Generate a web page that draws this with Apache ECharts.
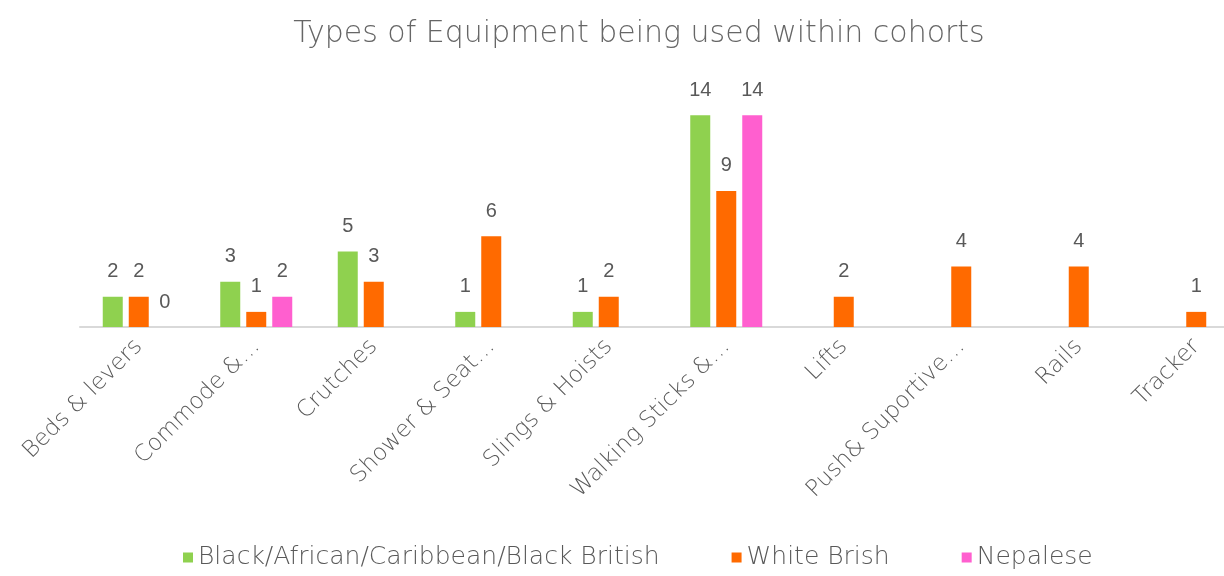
<!DOCTYPE html>
<html>
<head>
<meta charset="utf-8">
<script src="https://cdn.jsdelivr.net/npm/echarts@6/dist/echarts.min.js"></script>
<style>
  html, body { margin: 0; padding: 0; background: #ffffff; overflow: hidden; }
  #chart { width: 1260px; height: 576px; }
</style>
</head>
<body>
<div id="chart"></div>
<script>
// Equipment types and counts per cohort
const categories = ['Beds & levers', 'Commode &…', 'Crutches', 'Shower & Seat…', 'Slings & Hoists',
  'Walking Sticks &…', 'Lifts', 'Push& Suportive…', 'Rails', 'Tracker'];
const seriesNames = ['Black/African/Caribbean/Black British', 'White Brish', 'Nepalese'];
const blackBritish = [2, 3, 5, 1, 1, 14, null, null, null, null];
const whiteBritish = [2, 1, 3, 6, 2, 9, 2, 4, 4, 1];
const nepalese = [0, 2, null, null, null, 14, null, null, null, null];
const colors = ['#8fd14f', '#ff6a00', '#ff5fcf'];

const chart = echarts.init(document.getElementById('chart'));
const textFont = '"DejaVu Sans", sans-serif';
const numFont = '"Liberation Sans", Arial, sans-serif';
const labelStyle = { show: true, position: 'top', distance: 15, color: '#595959', fontSize: 20, fontFamily: numFont };

chart.setOption({
  animation: false,
  backgroundColor: '#ffffff',
  color: colors,
  title: {
    text: 'Types of Equipment being used within cohorts',
    left: 634,
    textAlign: 'center',
    top: 14,
    textStyle: { color: '#666666', fontSize: 30, fontWeight: 200, fontFamily: textFont }
  },
  legend: {
    bottom: 1,
    left: 178,
    itemWidth: 10,
    itemHeight: 10,
    itemGap: 72,
    icon: 'rect',
    textStyle: { color: '#595959', fontSize: 25, fontWeight: 200, fontFamily: textFont },
    data: seriesNames
  },
  grid: { left: 80, right: 5, top: 85, bottom: 249, containLabel: false },
  xAxis: {
    type: 'category',
    data: categories,
    axisLine: { lineStyle: { color: '#d9d9d9', width: 2 } },
    axisTick: { show: false },
    axisLabel: { interval: 0, rotate: 45, color: '#595959', fontSize: 23, fontWeight: 200, fontFamily: textFont, margin: 16 }
  },
  yAxis: {
    type: 'value',
    min: 0,
    max: 16,
    show: false,
    splitLine: { show: false }
  },
  series: [
    { name: seriesNames[0], type: 'bar', data: blackBritish, barWidth: 20, barGap: '30%', label: labelStyle },
    { name: seriesNames[1], type: 'bar', data: whiteBritish, barWidth: 20, barGap: '30%', label: labelStyle },
    { name: seriesNames[2], type: 'bar', data: nepalese, barWidth: 20, barGap: '30%', label: labelStyle }
  ]
});
</script>
</body>
</html>
